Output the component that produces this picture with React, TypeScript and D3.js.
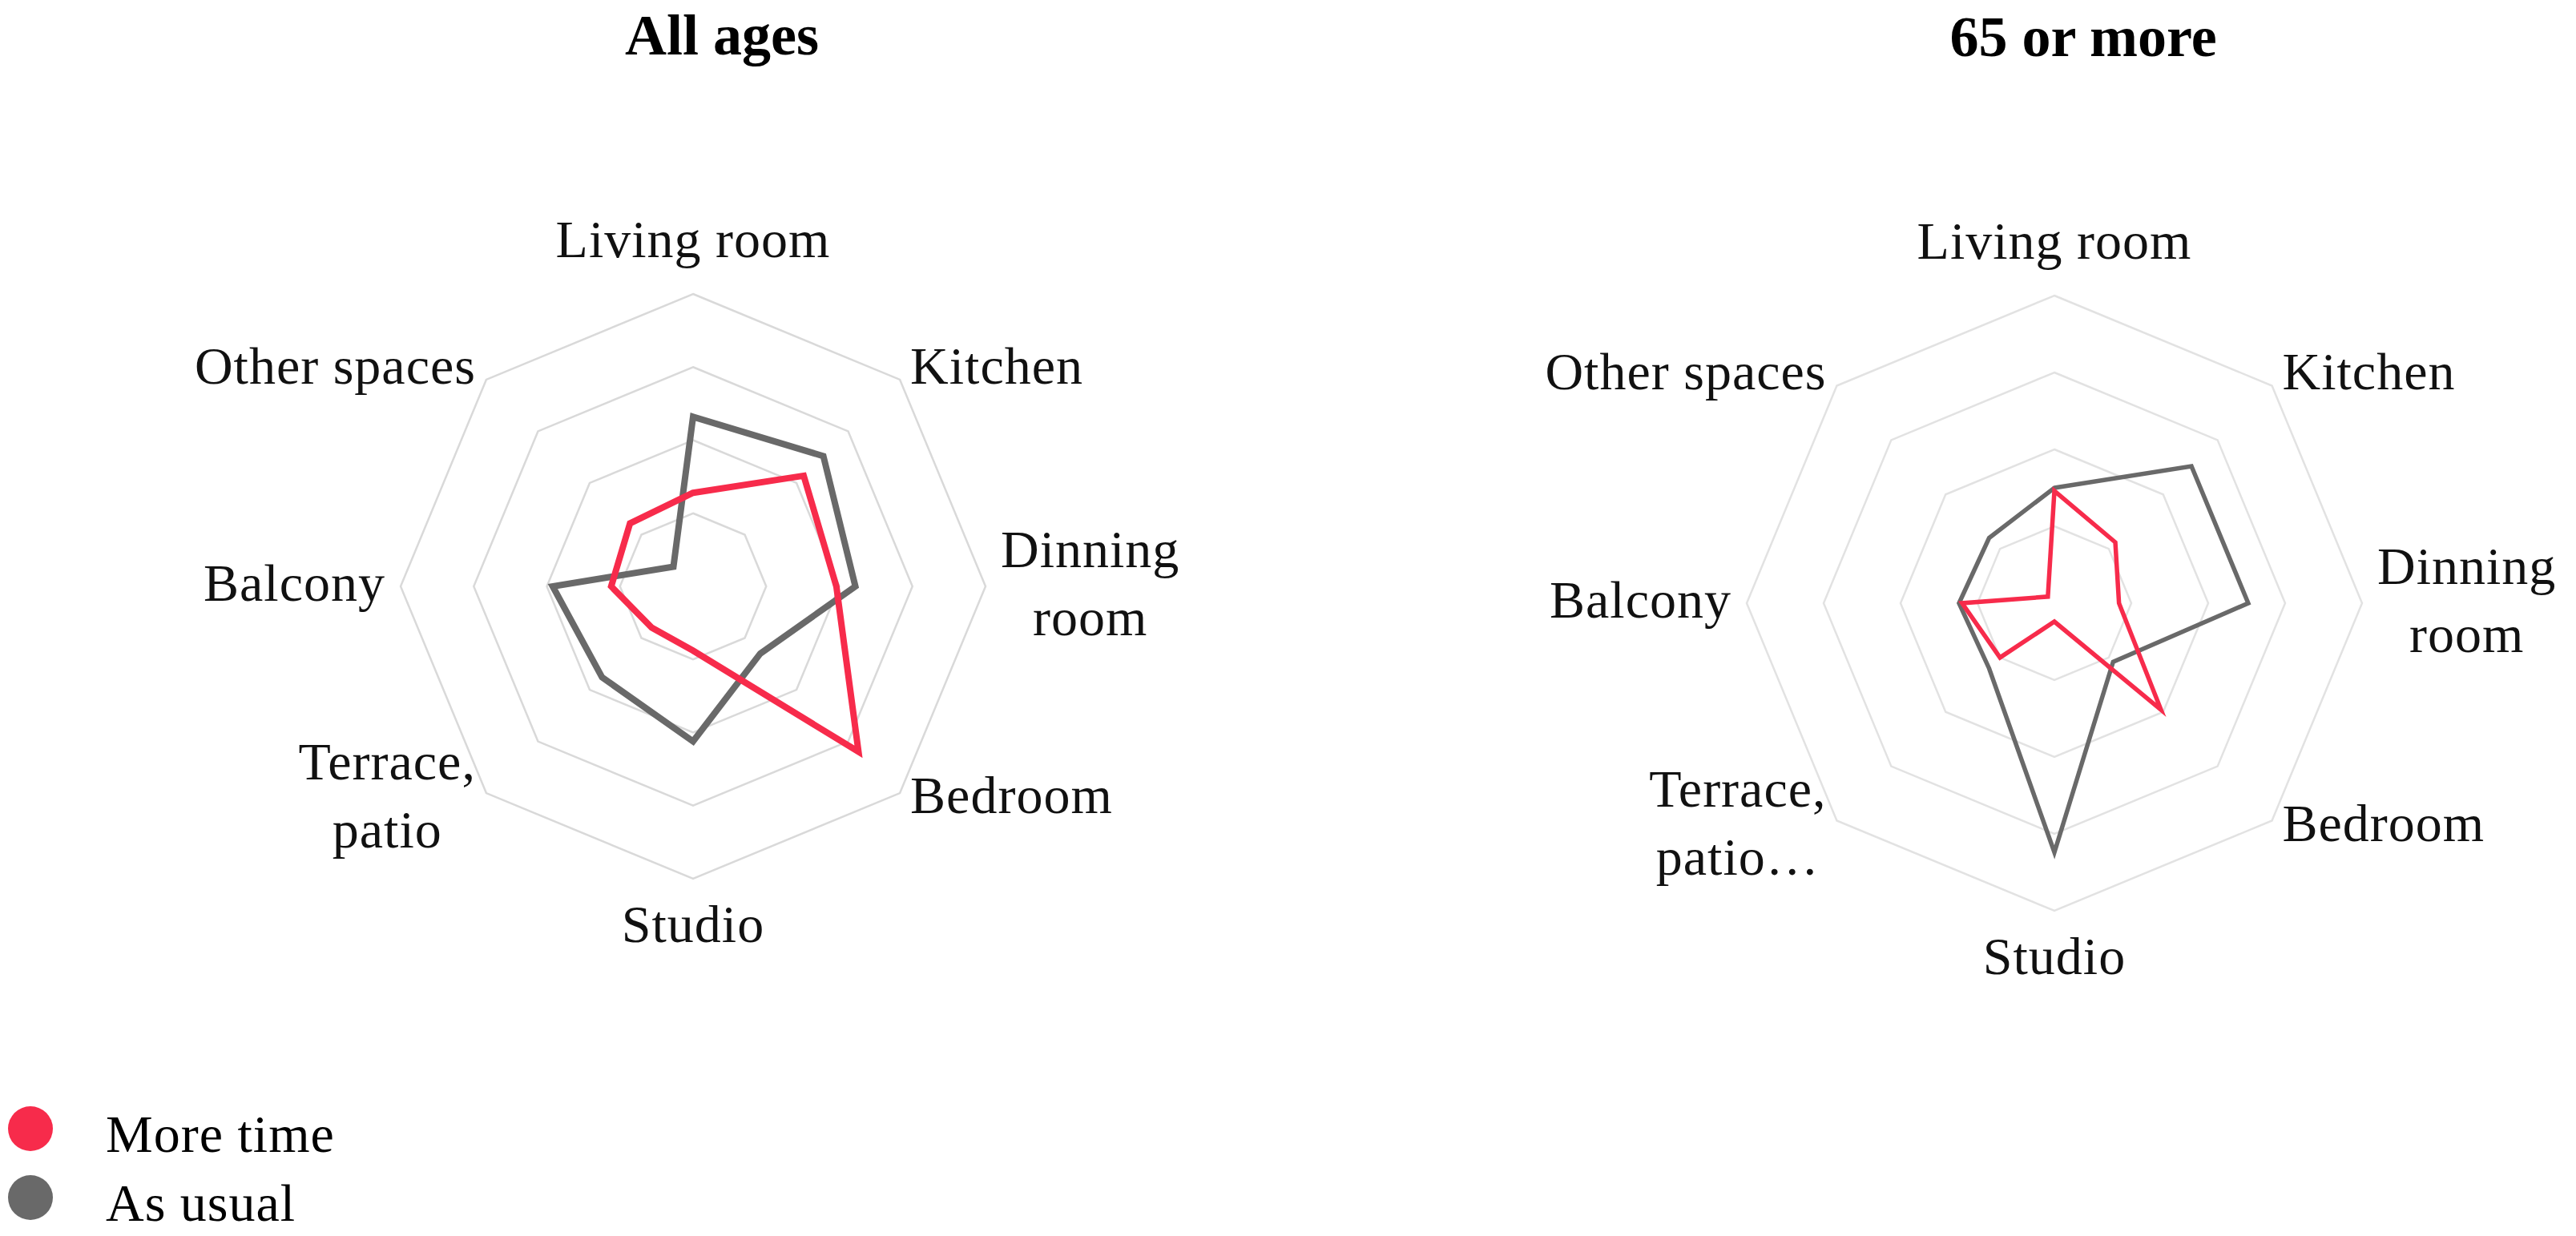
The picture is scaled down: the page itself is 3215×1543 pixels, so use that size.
import React, { useRef, useEffect } from "react";
import * as d3 from "d3";

// categories (axis labels, "\n" = line break)
const labelsAll = ["Living room", "Kitchen", "Dinning\nroom", "Bedroom", "Studio", "Terrace,\npatio", "Balcony", "Other spaces"];
const labels65 = ["Living room", "Kitchen", "Dinning\nroom", "Bedroom", "Studio", "Terrace,\npatio…", "Balcony", "Other spaces"];

// series values, share of the outer ring
const moreTimeAll = [0.32, 0.535, 0.49, 0.8, 0.22, 0.2, 0.28, 0.305];
const asUsualAll = [0.58, 0.63, 0.555, 0.325, 0.53, 0.44, 0.48, 0.095];
const moreTime65 = [0.365, 0.28, 0.21, 0.49, 0.06, 0.25, 0.3, 0.03];
const asUsual65 = [0.375, 0.63, 0.63, 0.27, 0.81, 0.3, 0.31, 0.3];

const seriesNames = ["More time", "As usual"];
const seriesColors = ["#F72B4B", "#696969"];
const gridLevels = [0.25, 0.5, 0.75, 1];

const FONT = "'Liberation Serif', 'Times New Roman', serif";
const LINE_H = 85;

const drawRadar = (svg, chart) => {
  const n = chart.labels.length;
  const angle = d3.scaleLinear().domain([0, n]).range([0, 2 * Math.PI]);
  const r = d3.scaleLinear().domain([0, 1]).range([0, chart.radius]);

  const g = svg.append("g").attr("transform", `translate(${chart.cx},${chart.cy})`);

  // title
  svg
    .append("text")
    .attr("x", chart.cx + 36)
    .attr("y", chart.titleY)
    .attr("text-anchor", "middle")
    .style("font-family", FONT)
    .style("font-weight", "700")
    .style("font-size", "72px")
    .style("fill", "#000")
    .text(chart.title);

  // grid rings
  const ring = (lvl) =>
    d3
      .lineRadial()
      .angle((d) => angle(d))
      .radius(() => r(lvl))
      .curve(d3.curveLinearClosed)(d3.range(n));

  g.selectAll(".ring")
    .data(gridLevels)
    .join("path")
    .attr("class", "ring")
    .attr("d", (d) => ring(d))
    .attr("fill", "none")
    .attr("stroke", chart.gridColor)
    .attr("stroke-width", 2.5);

  // series (as usual under, more time on top)
  const line = d3
    .lineRadial()
    .angle((d, i) => angle(i))
    .radius((d) => r(d))
    .curve(d3.curveLinearClosed);

  const series = [
    { name: seriesNames[1], values: chart.asUsual, color: seriesColors[1] },
    { name: seriesNames[0], values: chart.moreTime, color: seriesColors[0] },
  ];
  g.selectAll(".series")
    .data(series)
    .join("path")
    .attr("class", "series")
    .attr("d", (d) => line(d.values))
    .attr("fill", "none")
    .attr("stroke", (d) => d.color)
    .attr("stroke-width", chart.lineWidth)
    .attr("stroke-linejoin", "miter")
    .attr("stroke-miterlimit", 10);

  // axis labels
  chart.labels.forEach((label, i) => {
    const a = angle(i);
    const sin = Math.sin(a);
    const cos = Math.cos(a);
    const vx = r(1) * sin;
    const vy = -r(1) * cos;
    const lines = label.split("\n");
    const lg = g.append("g");
    const texts = lines.map((t) =>
      lg
        .append("text")
        .attr("text-anchor", "middle")
        .style("font-family", FONT)
        .style("font-size", "66px")
        .style("letter-spacing", "1px")
        .style("fill", "#111")
        .text(t)
    );
    const w = d3.max(texts, (t) => t.node().getComputedTextLength());
    let x;
    let y0;
    if (Math.abs(sin) < 0.01) {
      x = vx;
      y0 = cos > 0 ? vy - 46 - (lines.length - 1) * LINE_H : vy + 79;
    } else {
      const gap = Math.abs(sin) > 0.99 ? 19 : 13;
      x = sin > 0 ? vx + gap + w / 2 : vx - gap - w / 2;
      const shift = cos > 0.1 ? -13 : cos < -0.1 ? 7 : 0;
      y0 = vy + 18 - ((lines.length - 1) * LINE_H) / 2 + shift;
    }
    texts.forEach((t, k) => t.attr("x", x).attr("y", y0 + k * LINE_H));
  });
};

const App = () => {
  const ref = useRef(null);

  useEffect(() => {
    const svg = d3.select(ref.current);
    svg.selectAll("*").remove();

    drawRadar(svg, {
      title: "All ages",
      cx: 865,
      cy: 732,
      radius: 365,
      titleY: 68,
      labels: labelsAll,
      moreTime: moreTimeAll,
      asUsual: asUsualAll,
      lineWidth: 8,
      gridColor: "#D9D9D9",
    });
    drawRadar(svg, {
      title: "65 or more",
      cx: 2564,
      cy: 753,
      radius: 384,
      titleY: 70,
      labels: labels65,
      moreTime: moreTime65,
      asUsual: asUsual65,
      lineWidth: 5.5,
      gridColor: "#E2E2E2",
    });

    // legend
    const legend = svg
      .selectAll(".legend")
      .data(seriesNames)
      .join("g")
      .attr("class", "legend")
      .attr("transform", (d, i) => `translate(38, ${1409 + i * 86})`);
    legend
      .append("circle")
      .attr("r", 28)
      .attr("fill", (d, i) => seriesColors[i]);
    legend
      .append("text")
      .attr("x", 94)
      .attr("y", 29)
      .style("font-family", FONT)
      .style("font-size", "66px")
      .style("letter-spacing", "1px")
      .style("fill", "#000")
      .text((d) => d);
  }, []);

  return (
    <svg
      ref={ref}
      width={3215}
      height={1543}
      style={{ position: "absolute", left: 0, top: 0, background: "#fff" }}
    />
  );
};

export default App;
